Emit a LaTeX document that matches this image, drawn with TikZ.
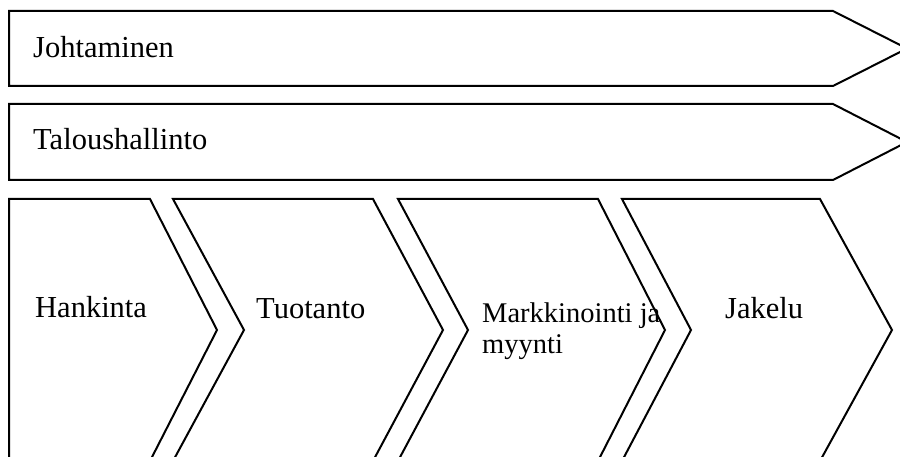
\documentclass[tikz,border=0pt]{standalone}
\usepackage{fontspec}
\setmainfont{Liberation Serif}
\begin{document}
\begin{tikzpicture}[x=1pt,y=-1pt,
  shp/.style={draw=black, line width=2pt, line join=miter},
  lbl/.style={anchor=base west, inner sep=0pt, font=\fontsize{30.5}{36}\selectfont},
  lblsmall/.style={anchor=base west, inner sep=0pt, align=left, font=\fontsize{28.5}{31}\selectfont}]
\useasboundingbox (0,0) rectangle (900,457);
\fill[white] (0,0) rectangle (900,457);
\clip (0,0) rectangle (900,457);
% top bars
\draw[shp] (9,11) -- (833,11) -- (907,48.5) -- (833,86) -- (9,86) -- cycle;
\draw[shp] (9,104) -- (833,104) -- (907,142) -- (833,180) -- (9,180) -- cycle;
% chevrons
\draw[shp] (9,199) -- (150,199) -- (217,330) -- (150,461) -- (9,461) -- cycle;
\draw[shp] (173,199) -- (373,199) -- (443,330) -- (373,461) -- (173,461) -- (244,330) -- cycle;
\draw[shp] (398,199) -- (598,199) -- (665,330) -- (598,461) -- (398,461) -- (468,330) -- cycle;
\draw[shp] (622,199) -- (820,199) -- (892,330) -- (820,461) -- (622,461) -- (691,330) -- cycle;
% labels
\node[lbl] (johto) at (33,58) {Johtaminen};
\node[lbl] (talous) at (33,150) {Taloushallinto};
\node[lbl] (hank) at (35,317) {Hankinta};
\node[lbl] (tuot) at (256,318) {Tuotanto};
\node[lblsmall] (mark) at (482,353) {Markkinointi ja\\myynti};
\node[lbl] (jak) at (725,318) {Jakelu};
\end{tikzpicture}
\end{document}
